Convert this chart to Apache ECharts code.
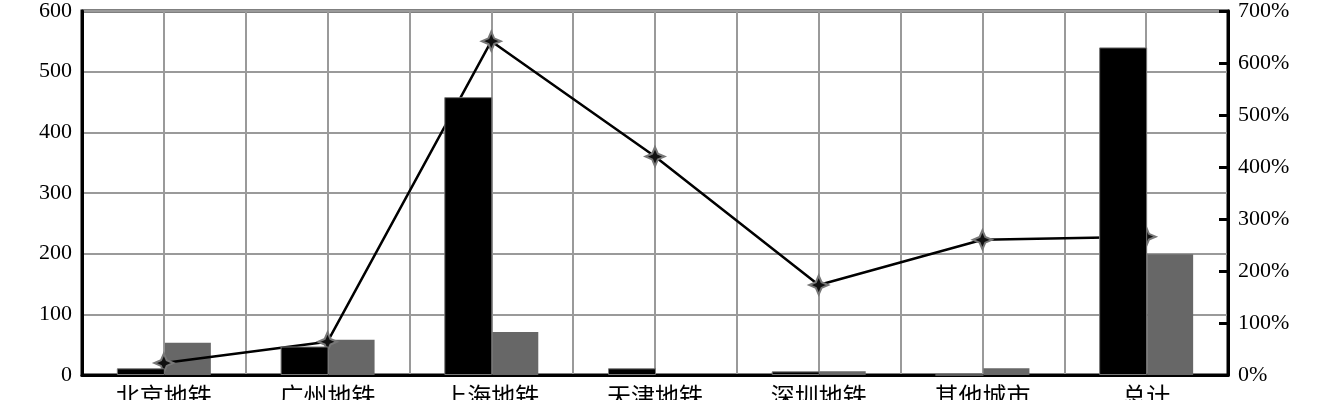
<!DOCTYPE html>
<html>
<head>
<meta charset="utf-8">
<script src="https://cdn.jsdelivr.net/npm/echarts@6/dist/echarts.min.js"></script>
<style>
  html, body { margin: 0; padding: 0; background: #fff; }
  #chart { width: 1335px; height: 400px; }
</style>
</head>
<body>
<div id="chart"></div>
<script>
// 各城市数据（柱：左轴，折线：右轴 %）
const cities = ['北京地铁', '广州地铁', '上海地铁', '天津地铁', '深圳地铁', '其他城市', '总计'];
const blackBars = [11, 47, 458, 11, 6, 0, 540];
const grayBars = [53, 58, 71, 0, 6, 11, 199];
const ratioLine = [23, 64, 642, 420, 173, 260, 266];

const serif = '"Liberation Serif", "DejaVu Serif", serif';
const cjk = '"Noto Sans CJK SC", sans-serif';
const starPath = 'path://M0,-10 L3,-3 L10,0 L3,3 L0,10 L-3,3 L-10,0 L-3,-3 Z';

const chart = echarts.init(document.getElementById('chart'));
chart.setOption({
  animation: false,
  backgroundColor: '#fff',
  grid: {
    left: 82, right: 107, top: 11, bottom: 25,
    outerBoundsMode: 'none', containLabel: false,
    show: true, borderColor: '#000', borderWidth: 3, backgroundColor: 'transparent'
  },
  xAxis: [
    {
      type: 'category',
      data: cities,
      axisLine: { lineStyle: { color: '#000', width: 3 } },
      axisTick: { show: false },
      splitLine: { show: false },
      axisLabel: { color: '#000', fontSize: 24, fontFamily: cjk, margin: 9, interval: 0 }
    },
    {
      // 仅用于画竖向网格线（类别边界 + 中心）
      type: 'value', position: 'top', min: 0, max: 14, interval: 1,
      axisLine: { show: false }, axisTick: { show: false }, axisLabel: { show: false },
      splitLine: { show: true, lineStyle: { color: '#9a9a9a', width: 2 } }
    }
  ],
  yAxis: [
    {
      type: 'value', min: 0, max: 600, interval: 100,
      axisLine: { show: true, lineStyle: { color: '#000', width: 3 } },
      axisTick: { show: false },
      axisLabel: { color: '#000', fontSize: 22, fontFamily: serif, margin: 10 },
      splitLine: { lineStyle: { color: '#9a9a9a', width: 2 } }
    },
    {
      type: 'value', min: 0, max: 700, interval: 100,
      axisLine: { show: true, lineStyle: { color: '#000', width: 3 } },
      axisTick: { show: true, inside: true, length: 9, lineStyle: { color: '#000', width: 3 } },
      axisLabel: { color: '#000', fontSize: 22, fontFamily: serif, margin: 10, formatter: '{value}%' },
      splitLine: { show: false }
    }
  ],
  series: [
    {
      // 黑柱在折线之上（参考图中折线被黑柱遮挡）
      type: 'bar',
      z: 3,
      data: blackBars,
      barWidth: 48,
      barGap: '0%',
      itemStyle: { color: '#000', borderColor: '#777', borderWidth: 1 }
    },
    {
      type: 'bar',
      z: 1,
      data: grayBars,
      barWidth: 46,
      barGap: '0%',
      itemStyle: { color: '#676767' }
    },
    {
      type: 'line',
      yAxisIndex: 1,
      z: 2,
      data: ratioLine,
      symbol: starPath,
      symbolSize: 19,
      lineStyle: { color: '#000', width: 2.5 },
      itemStyle: { color: '#111', borderColor: '#777', borderWidth: 2 }
    }
  ]
});
</script>
</body>
</html>
